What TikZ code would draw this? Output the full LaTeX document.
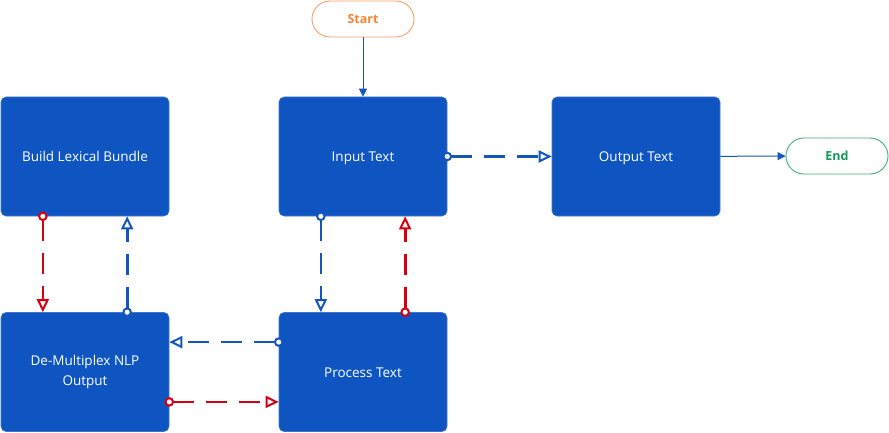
\documentclass[tikz,border=0pt]{standalone}
\usepackage{fontspec}
\setmainfont{Open Sans}
\usetikzlibrary{arrows.meta,calc}
\definecolor{boxblue}{HTML}{0F55C1}
\definecolor{lineblue}{HTML}{1456BE}
\definecolor{linered}{HTML}{D8000E}
\definecolor{startor}{HTML}{F08436}
\definecolor{startbd}{HTML}{F4A06A}
\definecolor{endgr}{HTML}{14995A}
\definecolor{endbd}{HTML}{3DB07A}
\tikzset{
  procbox/.style={rectangle, rounded corners=5pt, fill=boxblue, draw=boxblue!80!white, line width=0.6pt,
    minimum width=168pt, minimum height=119pt, inner sep=0pt, text=white, font=\fontsize{13.5}{20}\selectfont, align=center},
  oneline/.style={text height=10pt, text depth=0pt},
  termbox/.style={rectangle, rounded corners=18pt, fill=white, line width=0.9pt,
    minimum width=102pt, minimum height=36pt, inner sep=0pt, font=\bfseries\fontsize{12.5}{14}\selectfont},
  flowline/.style={line width=2.7pt, dash pattern=on 21pt off 12pt,
    {Circle[open, length=9.5pt, width=9.5pt, line width=2pt, fill=white]}-{Triangle[open, length=13pt, width=12pt, line width=2pt, fill=white]},
    shorten <=-4.75pt},
  bluel/.style={flowline, draw=lineblue},
  redl/.style={flowline, draw=linered},
  solidl/.style={line width=1pt, draw=lineblue, -{Triangle[length=8pt, width=8pt]}}
}
\begin{document}
\begin{tikzpicture}[x=1pt,y=-1pt]
\useasboundingbox (0,0) rectangle (889,433);
\node[procbox, oneline] (build) at (85,156.5) {Build Lexical Bundle};
\node[procbox, oneline] (input) at (363,156.5) {Input Text};
\node[procbox, oneline] (output) at (636,156.5) {Output Text};
\node[procbox] (demux) at (85,372) {De-Multiplex NLP\\Output};
\node[procbox, oneline] (process) at (363,372) {Process Text};
\node[termbox, draw=startbd, text=startor] (start) at (363,19) {Start};
\node[termbox, draw=endbd, text=endgr] (end) at (837,156) {End};

\draw[solidl] (start) -- (input);
\draw[solidl] (output) -- (end);
\draw[bluel] (input.east) -- (output.west);

\draw[redl] ($(build.south west)!0.25!(build.south east)$) -- ($(demux.north west)!0.25!(demux.north east)$);
\draw[bluel] ($(demux.north west)!0.75!(demux.north east)$) -- ($(build.south west)!0.75!(build.south east)$);
\draw[bluel] ($(input.south west)!0.25!(input.south east)$) -- ($(process.north west)!0.25!(process.north east)$);
\draw[redl] ($(process.north west)!0.75!(process.north east)$) -- ($(input.south west)!0.75!(input.south east)$);
\draw[bluel] ($(process.north west)!0.25!(process.south west)$) -- ($(demux.north east)!0.25!(demux.south east)$);
\draw[redl] ($(demux.north east)!0.75!(demux.south east)$) -- ($(process.north west)!0.75!(process.south west)$);
\end{tikzpicture}
\end{document}
